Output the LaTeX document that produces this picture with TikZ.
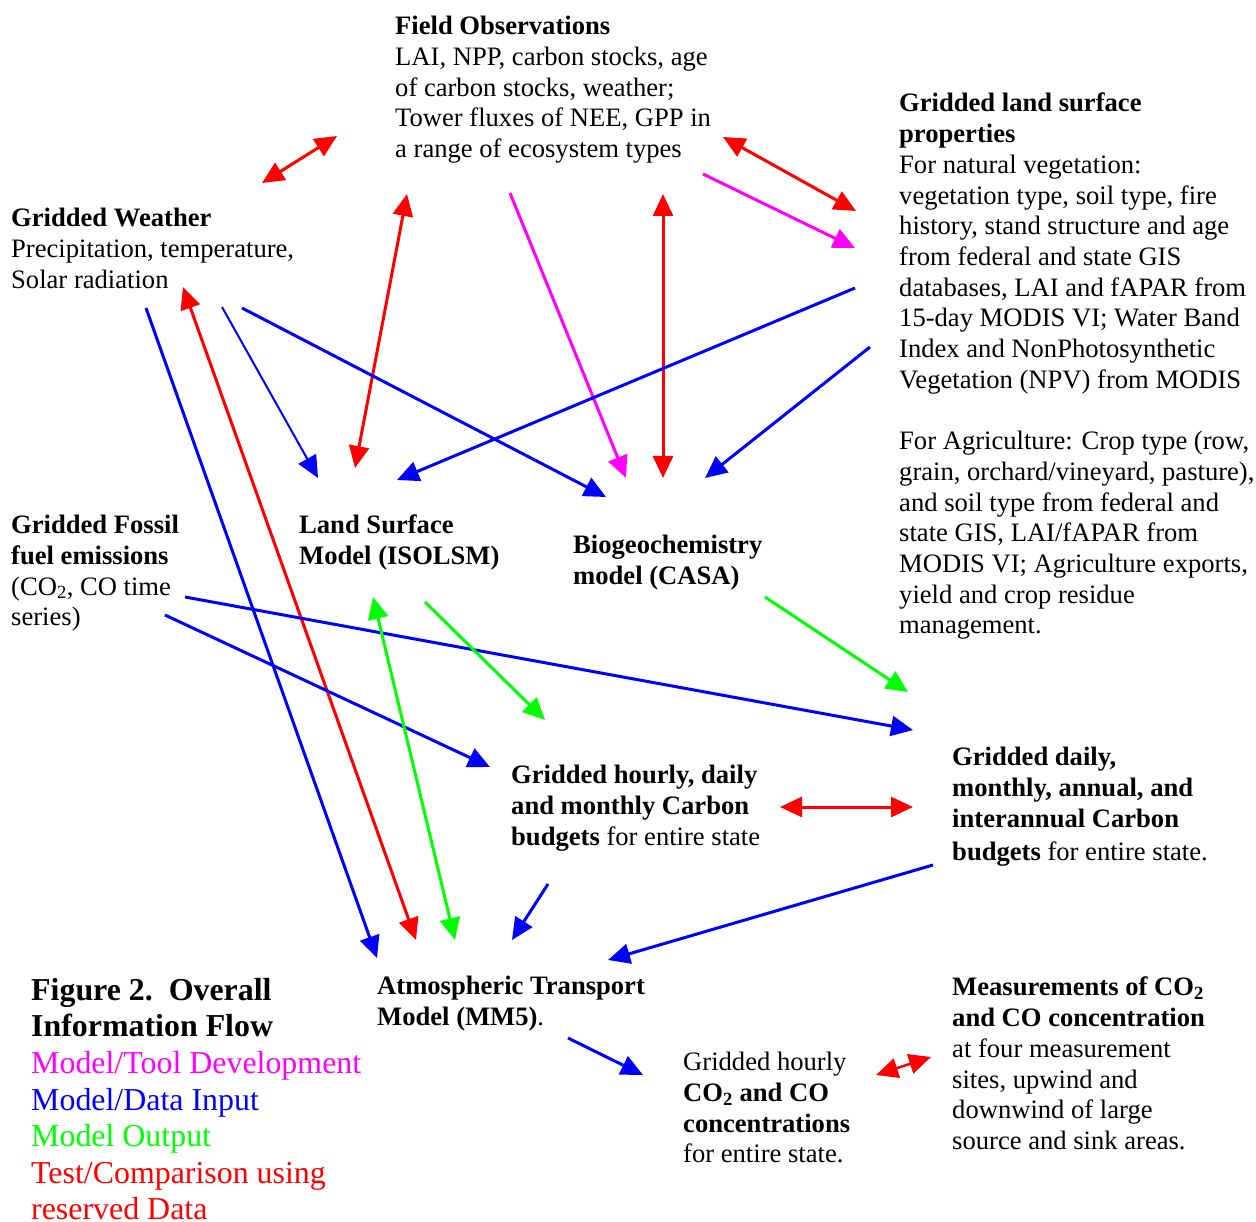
\documentclass[tikz,border=0pt]{standalone}
\usepackage{fontspec}
\setmainfont{Liberation Serif}
\usetikzlibrary{arrows.meta}
\definecolor{pred}{RGB}{255,0,0}
\definecolor{pblue}{RGB}{0,0,255}
\definecolor{pgreen}{RGB}{0,255,0}
\definecolor{pmag}{RGB}{255,0,255}
\tikzset{
  txt/.style={anchor=north west, inner sep=0pt, align=left, font=\fontsize{26.6}{30.7}\selectfont},
  legtxt/.style={anchor=north west, inner sep=0pt, align=left, font=\fontsize{31.9}{36.6}\selectfont},
  tip/.tip={Triangle[length=22pt,width=20pt]},
  arr/.style={line width=3pt, -tip},
  darr/.style={line width=3pt, tip-tip},
  test/.style={darr, color=pred},
  input/.style={arr, color=pblue},
  output/.style={arr, color=pgreen},
  tool/.style={arr, color=pmag}
}
\begin{document}
\begin{tikzpicture}[x=1pt,y=-1pt]
\useasboundingbox (0,0) rectangle (1256,1222);

% ---------- text blocks ----------
\node[txt] (field) at (395,16) {\textbf{Field Observations}\\
LAI, NPP, carbon stocks, age\\
of carbon stocks, weather;\\
Tower fluxes of NEE, GPP in\\
a range of ecosystem types};

\node[txt] (land) at (899,93) {\textbf{Gridded land surface}\\
\textbf{properties}\\
For natural vegetation:\\
vegetation type, soil type, fire\\
history, stand structure and age\\
from federal and state GIS\\
databases, LAI and fAPAR from\\
15-day MODIS VI; Water Band\\
Index and NonPhotosynthetic\\
Vegetation (NPV) from MODIS};

\node[txt] (agri) at (899,431) {For Agriculture: Crop type (row,\\
grain, orchard/vineyard, pasture),\\
and soil type from federal and\\
state GIS, LAI/fAPAR from\\
MODIS VI; Agriculture exports,\\
yield and crop residue\\
management.};

\node[txt] (weather) at (11,208) {\textbf{Gridded Weather}\\
Precipitation, temperature,\\
Solar radiation};

\node[txt] (fossil) at (11,515) {\textbf{Gridded Fossil}\\
\textbf{fuel emissions}\\
(CO\textsubscript{2}, CO time\\
series)};

\node[txt] (lsm) at (299,515) {\textbf{Land Surface}\\
\textbf{Model (ISOLSM)}};

\node[txt] (casa) at (573,535) {\textbf{Biogeochemistry}\\
\textbf{model (CASA)}};

\node[txt] (hourly) at (511,765) {\textbf{Gridded hourly, daily}\\
\textbf{and monthly Carbon}\\
\textbf{budgets} for entire state};

\node[txt] (daily) at (952,747) {\textbf{Gridded daily,}\\
\textbf{monthly, annual, and}\\
\textbf{interannual Carbon}\\[3pt]
\textbf{budgets} for entire state.};

\node[txt] (atmos) at (377,976) {\textbf{Atmospheric Transport}\\
\textbf{Model (MM5)}.};

\node[txt] (conc) at (683,1052) {Gridded hourly\\
\textbf{CO\textsubscript{2} and CO}\\
\textbf{concentrations}\\
for entire state.};

\node[txt] (meas) at (952,977) {\textbf{Measurements of CO\textsubscript{2}}\\
\textbf{and CO concentration}\\
at four measurement\\
sites, upwind and\\
downwind of large\\
source and sink areas.};

\node[legtxt] (legend) at (31,978) {\textbf{Figure 2.\ \ Overall}\\
\textbf{Information Flow}\\
\textcolor{pmag}{Model/Tool Development}\\
\textcolor{pblue}{Model/Data Input}\\
\textcolor{pgreen}{Model Output}\\
\textcolor{pred}{Test/Comparison using}\\
\textcolor{pred}{reserved Data}};

% ---------- connector end points ----------
\coordinate (r1a) at (262,183);  \coordinate (r1b) at (337,136);
\coordinate (r2a) at (355,468);  \coordinate (r2b) at (407,194);
\coordinate (r3a) at (663,478);  \coordinate (r3b) at (663,194);
\coordinate (r4a) at (723,137);  \coordinate (r4b) at (856,211);
\coordinate (r5a) at (183,287);  \coordinate (r5b) at (416,940);
\coordinate (r6a) at (780,807);  \coordinate (r6b) at (913,807);
\coordinate (r7a) at (876,1075); \coordinate (r7b) at (931,1057);

\coordinate (m1a) at (510,193);  \coordinate (m1b) at (626,478);
\coordinate (m2a) at (703,174);  \coordinate (m2b) at (855,248);

\coordinate (b1a) at (146,308);  \coordinate (b1b) at (377,958);
\coordinate (b2a) at (222,307);  \coordinate (b2b) at (318,478);
\coordinate (b3a) at (242,308);  \coordinate (b3b) at (606,497);
\coordinate (b4a) at (855,288);  \coordinate (b4b) at (397,480);
\coordinate (b5a) at (870,347);  \coordinate (b5b) at (705,478);
\coordinate (b6a) at (185,597);  \coordinate (b6b) at (913,730);
\coordinate (b7a) at (165,615);  \coordinate (b7b) at (490,767);
\coordinate (b8a) at (548,884);  \coordinate (b8b) at (512,940);
\coordinate (b9a) at (933,865);  \coordinate (b9b) at (608,960);
\coordinate (b10a) at (568,1038); \coordinate (b10b) at (643,1075);

\coordinate (g1a) at (373,597);  \coordinate (g1b) at (455,940);
\coordinate (g2a) at (425,602);  \coordinate (g2b) at (545,720);
\coordinate (g3a) at (765,597);  \coordinate (g3b) at (908,692);

% ---------- connectors ----------
\draw[test] (r1a) -- (r1b);
\draw[test] (r2a) -- (r2b);
\draw[test] (r3a) -- (r3b);
\draw[test] (r4a) -- (r4b);
\draw[test] (r5a) -- (r5b);
\draw[test] (r6a) -- (r6b);
\draw[test, line width=2.5pt, tip-tip] (r7a) -- (r7b);

\draw[tool] (m1a) -- (m1b);
\draw[tool] (m2a) -- (m2b);

\draw[input] (b1a) -- (b1b);
\draw[input, line width=2pt] (b2a) -- (b2b);
\draw[input] (b3a) -- (b3b);
\draw[input] (b4a) -- (b4b);
\draw[input] (b5a) -- (b5b);
\draw[input] (b6a) -- (b6b);
\draw[input] (b7a) -- (b7b);
\draw[input] (b8a) -- (b8b);
\draw[input] (b9a) -- (b9b);
\draw[input] (b10a) -- (b10b);

\draw[output, tip-tip] (g1a) -- (g1b);
\draw[output] (g2a) -- (g2b);
\draw[output] (g3a) -- (g3b);
\end{tikzpicture}
\end{document}
